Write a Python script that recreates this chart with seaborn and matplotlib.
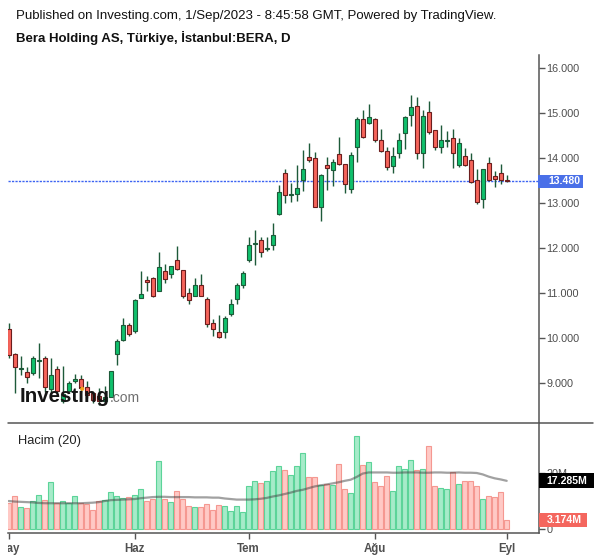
import numpy as np
import pandas as pd
import matplotlib
matplotlib.use("Agg")
import matplotlib.pyplot as plt
import seaborn as sns
from matplotlib.patches import Rectangle, Ellipse
from matplotlib.lines import Line2D
from matplotlib.transforms import Bbox, TransformedBbox

# ---------------- data ----------------
opens = [10.19, 9.64, 9.32, 9.24, 9.22, 9.49, 9.55, 8.86, 9.30, 8.60,
         8.83, 9.04, 9.10, 8.92, 8.78, 8.72, 8.60, 8.70, 9.64, 9.96,
         10.29, 10.16, 10.88, 11.29, 11.33, 11.04, 11.50, 11.42, 11.73, 11.50,
         10.99, 10.93, 11.17, 10.86, 10.33, 10.13, 10.13, 10.53, 10.86, 11.17,
         11.73, 12.09, 12.17, 11.98, 12.06, 12.75, 13.66, 13.18, 13.21, 13.50,
         14.02, 13.99, 12.92, 13.84, 13.73, 14.08, 13.86, 13.32, 14.24, 14.87,
         14.77, 14.86, 14.41, 14.15, 13.82, 14.10, 14.55, 14.95, 15.15, 14.10,
         15.02, 14.62, 14.24, 14.37, 14.44, 13.84, 14.04, 13.95, 13.52, 13.08,
         13.88, 13.59, 13.66, 13.51]
highs = [10.34, 9.66, 9.59, 9.36, 9.59, 9.88, 9.59, 9.55, 9.38, 9.38,
         9.05, 9.20, 9.18, 9.05, 8.81, 8.88, 8.93, 9.27, 9.97, 10.44,
         10.33, 10.87, 11.49, 11.38, 11.36, 11.90, 11.64, 11.59, 12.04, 11.52,
         11.10, 11.33, 11.42, 10.90, 10.42, 10.51, 10.49, 10.87, 11.22, 11.49,
         12.24, 12.40, 12.24, 12.24, 12.55, 13.40, 13.76, 13.44, 13.84, 14.18,
         14.33, 14.13, 13.64, 14.02, 13.98, 14.47, 13.86, 14.14, 14.91, 15.07,
         15.21, 14.88, 14.64, 14.25, 14.24, 14.56, 14.93, 15.40, 15.35, 15.07,
         15.27, 14.62, 14.73, 14.59, 14.64, 14.44, 14.22, 14.10, 13.76, 13.76,
         14.02, 13.71, 13.86, 13.62]
lows = [9.56, 8.78, 9.18, 9.00, 9.18, 9.10, 8.81, 8.78, 8.78, 8.55,
        8.78, 9.00, 8.81, 8.66, 8.55, 8.52, 8.55, 8.68, 9.40, 9.94,
        10.05, 10.12, 10.88, 11.04, 10.90, 11.04, 11.23, 11.33, 11.50, 10.88,
        10.75, 10.93, 10.93, 10.24, 10.05, 9.99, 9.99, 10.49, 10.75, 11.10,
        11.70, 11.62, 11.79, 11.94, 11.96, 12.73, 13.01, 13.03, 13.05, 13.27,
        13.92, 12.90, 12.60, 13.29, 13.38, 13.84, 13.23, 13.23, 13.90, 14.45,
        14.75, 14.36, 14.13, 13.74, 13.67, 14.01, 14.19, 14.70, 13.98, 13.77,
        14.54, 14.17, 14.10, 14.25, 13.77, 13.79, 13.82, 13.44, 12.98, 12.88,
        13.48, 13.35, 13.42, 13.47]
closes = [9.62, 9.35, 9.34, 9.13, 9.55, 9.51, 8.91, 9.18, 8.83, 8.75,
          9.01, 9.10, 8.88, 8.73, 8.62, 8.60, 8.70, 9.27, 9.93, 10.29,
          10.09, 10.84, 10.98, 11.24, 10.94, 11.57, 11.30, 11.59, 11.53, 10.93,
          10.84, 11.17, 10.93, 10.31, 10.19, 10.02, 10.44, 10.75, 11.18, 11.44,
          12.07, 12.11, 11.90, 12.00, 12.28, 13.24, 13.17, 13.20, 13.33, 13.75,
          13.95, 12.92, 13.62, 13.78, 13.90, 13.86, 13.43, 14.07, 14.87, 14.47,
          14.90, 14.41, 14.15, 13.79, 14.04, 14.41, 14.90, 15.13, 14.10, 14.93,
          14.57, 14.24, 14.39, 14.41, 14.10, 14.33, 13.84, 13.46, 13.02, 13.75,
          13.50, 13.53, 13.51, 13.48]
volume_m = [9.40, 11.79, 7.74, 7.38, 10.00, 12.02, 10.24, 16.67, 9.17, 10.00,
            9.17, 11.79, 9.17, 8.93, 6.79, 10.00, 10.24, 13.21, 11.79, 11.19,
            11.43, 12.02, 14.17, 10.00, 10.71, 24.29, 10.60, 9.64, 13.45, 10.60,
            8.10, 7.74, 7.74, 8.93, 6.67, 8.45, 8.10, 6.31, 8.10, 5.95,
            15.24, 17.02, 16.43, 17.02, 20.60, 22.38, 20.95, 19.17, 22.38, 27.02,
            18.45, 18.45, 15.71, 15.95, 15.71, 23.21, 14.17, 12.86, 33.21, 22.86,
            23.81, 16.67, 15.36, 18.81, 13.45, 22.38, 21.43, 24.52, 20.95, 21.43,
            29.64, 15.24, 14.52, 14.17, 20.36, 15.95, 17.02, 17.02, 15.24, 10.60,
            11.67, 11.31, 13.21, 3.174]
volume_ma20 = [10.0, 9.8, 9.7, 9.6, 9.5, 9.3, 9.2, 9.2, 9.2, 9.2,
               9.2, 9.2, 9.2, 9.3, 9.4, 9.6, 10.0, 10.3, 10.4, 10.5,
               10.6, 10.7, 11.0, 11.2, 11.4, 11.5, 11.5, 11.4, 11.4, 11.4,
               11.4, 11.3, 11.3, 11.3, 11.2, 11.2, 10.9, 10.7, 10.5, 10.5,
               10.5, 10.6, 10.8, 11.1, 11.6, 12.0, 12.5, 13.0, 13.6, 14.0,
               14.6, 15.2, 15.6, 15.9, 16.3, 16.7, 17.2, 17.6, 18.6, 19.8,
               20.2, 20.2, 20.2, 20.2, 20.1, 20.1, 20.2, 20.2, 20.2, 20.1,
               20.1, 20.2, 20.2, 20.1, 20.1, 20.2, 20.1, 20.1, 20.0, 19.5,
               18.7, 18.1, 17.7, 17.2]
last_price = 13.480
last_volume = 3.174
volume_ma_last = 17.285
price_ticks = [9, 10, 11, 12, 13, 14, 15, 16]
month_pos = [0, 21, 40, 61, 83]
month_labels = ["May", "Haz", "Tem", "Ağu", "Eyl"]
title1 = "Published on Investing.com, 1/Sep/2023 - 8:45:58 GMT, Powered by TradingView."
title2 = "Bera Holding AS, Türkiye, İstanbul:BERA, D"

# ---------------- styling ----------------
sns.set_theme(style="white")
plt.rcParams["font.family"] = ["Liberation Sans", "DejaVu Sans"]

W, H = 600, 558
fig = plt.figure(figsize=(W / 100, H / 100), dpi=100, facecolor="white")


def fx(px):
    return px / W


def fy(py):
    return 1 - py / H


L, R = 8, 539
ax1 = fig.add_axes([fx(L), fy(423), fx(R) - fx(L), fy(55) - fy(423)])
ax2 = fig.add_axes([fx(L), fy(533), fx(R) - fx(L), fy(423) - fy(533)], sharex=ax1)

n = len(closes)
x = np.arange(n)
o = np.array(opens); c = np.array(closes); hi = np.array(highs); lo = np.array(lows)
up = c >= o

GREEN_F, GREEN_E = "#10c06c", "#1d5a39"
RED_F, RED_E = "#f6645b", "#6b1d1d"
WICK = "#1d5a39"

# price candles
ax1.vlines(x, lo, hi, colors=WICK, linewidth=1.0, zorder=2)
bottoms = np.minimum(o, c)
heights = np.maximum(np.abs(c - o), 0.012)
ax1.bar(x, heights, bottom=bottoms, width=0.72,
        color=[GREEN_F if u else RED_F for u in up],
        edgecolor=[GREEN_E if u else RED_E for u in up],
        linewidth=0.8, zorder=3)
ax1.axhline(last_price, color="#3d64f2", linewidth=1.0, linestyle=(0, (1.6, 0.9)), zorder=1)

# volume bars
df = pd.DataFrame({"idx": x, "vol": volume_m, "ma": volume_ma20})
sns.barplot(data=df, x="idx", y="vol", native_scale=True, width=0.85, ax=ax2,
            color="#a6ebc9", saturation=1, errorbar=None, zorder=2)
for p in ax2.patches:
    i = int(round(p.get_x() + p.get_width() / 2))
    if up[i]:
        p.set_facecolor("#a6ebc9"); p.set_edgecolor("#5cd499")
    else:
        p.set_facecolor("#ffc9c5"); p.set_edgecolor("#f59891")
    p.set_linewidth(0.8)
sns.lineplot(data=df, x="idx", y="ma", ax=ax2, color="#444444", alpha=0.5,
             linewidth=1.6, zorder=4)

# axes limits
x_left = -0.7 / 6
ax1.set_xlim(x_left, x_left + (R - L) / 6)
ax1.set_ylim(16 - (423 - 68) / 45, 16 + (68 - 55) / 45)
ax2.set_ylim(-(533 - 529) / 2.8, (529 - 423) / 2.8)
ax2.set_xlabel(""); ax2.set_ylabel("")
ax1.set_xlabel(""); ax1.set_ylabel("")

SP = "#555555"
for ax in (ax1, ax2):
    ax.set_facecolor("white")
    ax.spines["top"].set_visible(False)
    ax.spines["left"].set_visible(False)
    ax.spines["right"].set_color(SP)
    ax.spines["right"].set_linewidth(1.1)
    ax.grid(False)
ax1.spines["bottom"].set_visible(False)
ax2.spines["bottom"].set_color(SP)
ax2.spines["bottom"].set_linewidth(1.1)

ax1.tick_params(axis="x", bottom=False, labelbottom=False)
ax1.yaxis.tick_right()
ax1.set_yticks(price_ticks)
ax1.set_yticklabels([f"{v:.3f}" for v in price_ticks])
ax1.tick_params(axis="y", right=True, left=False, labelright=True, labelleft=False,
                length=4, width=1, color=SP, labelsize=7.8, labelcolor="#4d4d4d", pad=1.5)

ax2.yaxis.tick_right()
ax2.set_yticks([0, 20])
ax2.set_yticklabels(["0", "20M"])
ax2.tick_params(axis="y", right=True, left=False, labelright=True, labelleft=False,
                length=4, width=1, color=SP, labelsize=7.8, labelcolor="#4d4d4d", pad=1.5)
ax2.set_xticks(month_pos)
ax2.set_xticklabels(month_labels)
ax2.tick_params(axis="x", bottom=True, length=4, width=1, color=SP,
                labelsize=8.3, labelcolor="#505050", pad=3)
clipbox = TransformedBbox(Bbox.from_extents(fx(L), 0, 1, 1), fig.transFigure)
for t in ax2.get_xticklabels():
    t.set_fontweight("bold")
    t.set_clip_on(True)
    t.set_clip_box(clipbox)

# last-value boxes
pw = R - L
ty1 = ax1.get_yaxis_transform()
ax1.add_patch(Rectangle((1 - 1 / pw, last_price - 6.5 / 45), 45 / pw, 13 / 45,
                        transform=ty1, facecolor="#4a70e8", edgecolor="none",
                        clip_on=False, zorder=6))
ax1.text(1 + 9 / pw, last_price, f"{last_price:.3f}", transform=ty1, color="white",
         fontsize=7.6, fontweight="bold", ha="left", va="center", clip_on=False, zorder=7)

ty2 = ax2.get_yaxis_transform()
ax2.add_patch(Rectangle((1, volume_ma_last - 7.2 / 2.8), 55 / pw, 14.4 / 2.8,
                        transform=ty2, facecolor="black", edgecolor="none",
                        clip_on=False, zorder=6))
ax2.text(1 + 7.5 / pw, volume_ma_last, f"{volume_ma_last:.3f}M", transform=ty2, color="white",
         fontsize=7.6, fontweight="bold", ha="left", va="center", clip_on=False, zorder=7)
ax2.add_patch(Rectangle((1, last_volume - 7.2 / 2.8), 48 / pw, 14.4 / 2.8,
                        transform=ty2, facecolor="#f4665e", edgecolor="none",
                        clip_on=False, zorder=6))
ax2.text(1 + 7.5 / pw, last_volume, f"{last_volume:.3f}M", transform=ty2, color="white",
         fontsize=7.6, fontweight="bold", ha="left", va="center", clip_on=False, zorder=7)

# separator line between panes
fig.add_artist(Line2D([fx(L), fx(593)], [fy(423), fy(423)], color=SP, linewidth=1.1))

# texts
fig.text(fx(16), fy(19.3), title1, fontsize=9.5, color="#111111", va="baseline")
fig.text(fx(16), fy(41.7), title2, fontsize=9.5, fontweight="bold", color="#111111", va="baseline")
fig.text(fx(18.3), fy(444), "Hacim (20)", fontsize=9.3, color="#222222", va="baseline")

# watermark logo
fig.text(fx(20), fy(401.7), "Investing", fontsize=14.8, fontweight="bold", color="#151515",
         va="baseline", zorder=10)
fig.text(fx(110), fy(401.7), ".com", fontsize=10, color="#707070", va="baseline", zorder=10)
fig.add_artist(Ellipse((fx(82.2), fy(388.8)), 4.2 / W, 4.2 / H, transform=fig.transFigure,
                       facecolor="#f7a21b", edgecolor="none", zorder=11))

fig.savefig("out.png", dpi=100, facecolor="white")
